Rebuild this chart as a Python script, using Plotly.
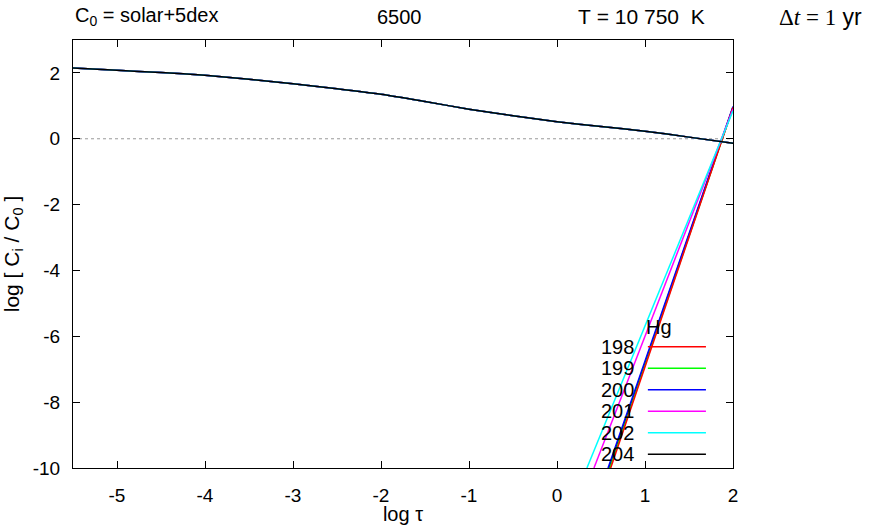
import plotly.graph_objects as go

# ---- data ----
isotopes = ["198", "199", "200", "201", "202", "204"]
colors = ["#ff0000", "#00ff00", "#0000ff", "#ff00ff", "#00ffff", "#000000"]

# shallow part (all isotopes overlap, black drawn last)
log_tau_upper = [-5.5, -5.0, -4.5, -4.0, -3.5, -3.0, -2.5, -2.0, -1.5, -1.0, -0.5, 0.0, 0.5, 1.0, 1.5, 2.0]
log_c_upper = [2.15, 2.08, 2.01, 1.93, 1.81, 1.67, 1.52, 1.35, 1.13, 0.90, 0.70, 0.52, 0.37, 0.23, 0.05, -0.14]

# steep part, per isotope: start (log tau at log C = -10) and end (log C at log tau = 2)
steep_x = {
    "198": [0.61, 2.0],
    "199": [0.60, 2.0],
    "200": [0.58, 2.0],
    "201": [0.42, 2.0],
    "202": [0.34, 2.0],
    "204": [0.59, 2.0],
}
steep_y = {
    "198": [-10.0, 0.95],
    "199": [-10.0, 0.95],
    "200": [-10.0, 0.98],
    "201": [-10.0, 0.90],
    "202": [-10.0, 0.85],
    "204": [-10.0, 0.96],
}

x_ticks = [-5, -4, -3, -2, -1, 0, 1, 2]
y_ticks = [2, 0, -2, -4, -6, -8, -10]

FONT = "Liberation Sans, Arial, Helvetica, sans-serif"
LW = 1.5

fig = go.Figure()
# steep lines: black first (hidden underneath), then the coloured ones
steep_order = ["204", "199", "200", "198", "201", "202"]
for iso in steep_order:
    c = colors[isotopes.index(iso)]
    fig.add_trace(go.Scatter(x=steep_x[iso], y=steep_y[iso], mode="lines", name=iso,
                             line=dict(color=c, width=LW), showlegend=False))
# shallow part, black last
for i, iso in enumerate(isotopes):
    fig.add_trace(go.Scatter(x=log_tau_upper, y=log_c_upper, mode="lines", name=iso,
                             line=dict(color=colors[i], width=LW, shape="spline", smoothing=0.6),
                             showlegend=False))

# dotted zero line
fig.add_shape(type="line", xref="paper", x0=0, x1=1, yref="y", y0=0, y1=0,
              line=dict(color="#999999", width=1, dash="dot"), layer="below")

# gnuplot-style key: label left, sample right
key_top = 0.2834
key_step = 0.0502
KEYFONT = dict(family=FONT, size=20, color="black")
fig.add_annotation(text="Hg", xref="paper", yref="paper", x=0.865, y=0.330,
                   xanchor="left", yanchor="middle", showarrow=False, font=KEYFONT)
for i, iso in enumerate(isotopes):
    yy = key_top - i * key_step
    fig.add_annotation(text=iso, xref="paper", yref="paper", x=0.853, y=yy,
                       xanchor="right", yanchor="middle", showarrow=False, font=KEYFONT)
    fig.add_shape(type="line", xref="paper", yref="paper", x0=0.871, x1=0.959,
                  y0=yy, y1=yy, line=dict(color=colors[i], width=LW))

# header texts
hy = 1.054
HFONT = dict(family=FONT, size=20, color="black")
fig.add_annotation(text="C<sub>0</sub> = solar+5dex", xref="paper", yref="paper",
                   x=0.0, y=hy, xanchor="left", yanchor="middle", showarrow=False, font=HFONT)
fig.add_annotation(text="6500", xref="paper", yref="paper",
                   x=0.494, y=hy, xanchor="center", yanchor="middle", showarrow=False, font=HFONT)
fig.add_annotation(text="T&nbsp;= 10&nbsp;750&nbsp;&nbsp;K", xref="paper", yref="paper",
                   x=0.861, y=hy, xanchor="center", yanchor="middle", showarrow=False,
                   font=dict(family=FONT, size=21, color="black"))
fig.add_annotation(text="<span style='font-family:Liberation Serif, DejaVu Serif, serif'>Δ<i>t</i> = 1</span> yr",
                   xref="paper", yref="paper",
                   x=1.133, y=hy, xanchor="center", yanchor="middle", showarrow=False,
                   font=dict(family=FONT, size=23, color="black"))

fig.update_layout(
    width=874, height=525,
    margin=dict(l=73, r=141, t=40, b=57),
    paper_bgcolor="white", plot_bgcolor="white",
    font=dict(family=FONT, size=19, color="black"),
    showlegend=False,
)
fig.update_xaxes(range=[-5.5, 2], tickvals=x_ticks, ticktext=[str(v) for v in x_ticks],
                 ticks="inside", ticklen=7, tickwidth=1, tickcolor="black",
                 showline=True, linecolor="black", linewidth=1, mirror="allticks",
                 showgrid=False, zeroline=False, ticklabelstandoff=10, automargin=False,
                 title=dict(text="log τ", standoff=3, font=dict(size=20)))
fig.update_yaxes(range=[-10, 3], tickvals=y_ticks, ticktext=[str(v) for v in y_ticks],
                 ticks="inside", ticklen=7, tickwidth=1, tickcolor="black",
                 showline=True, linecolor="black", linewidth=1, mirror="allticks",
                 showgrid=False, zeroline=False, ticklabelstandoff=8, automargin=False,
                 title=dict(text="log [ C<sub>i</sub> / C<sub>0</sub> ]", standoff=8, font=dict(size=21)))

fig.write_html("out.html")
